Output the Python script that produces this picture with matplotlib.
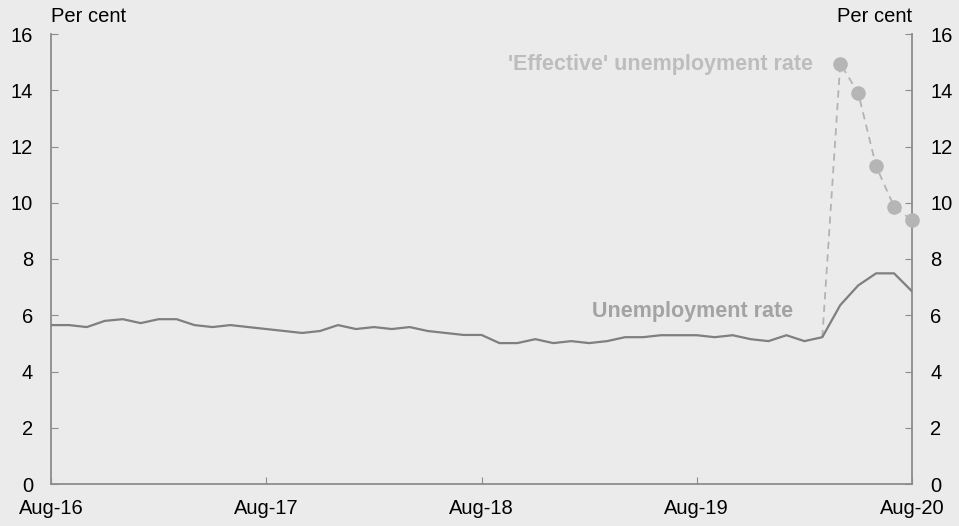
import matplotlib
matplotlib.use("Agg")
import matplotlib.pyplot as plt
import numpy as np

plt.rcParams["font.family"] = ["Liberation Sans", "DejaVu Sans"]

# monthly, Aug-16 .. Aug-20
unemployment = [5.65, 5.65, 5.58, 5.80, 5.86, 5.72, 5.86, 5.86, 5.65, 5.58,
                5.65, 5.58, 5.51, 5.44, 5.37, 5.44, 5.65, 5.51, 5.58, 5.51,
                5.58, 5.44, 5.37, 5.30, 5.30, 5.01, 5.01, 5.15, 5.01, 5.08,
                5.01, 5.08, 5.22, 5.22, 5.29, 5.29, 5.29, 5.22, 5.29, 5.15,
                5.08, 5.29, 5.08, 5.22, 6.36, 7.06, 7.49, 7.49, 6.85]
# Mar-20 .. Aug-20
effective_months = [43, 44, 45, 46, 47, 48]
effective = [5.22, 14.95, 13.9, 11.3, 9.86, 9.37]
tick_pos = [0, 12, 24, 36, 48]
tick_labels = ["Aug-16", "Aug-17", "Aug-18", "Aug-19", "Aug-20"]

bg = "#ebebeb"
axis_col = "#8c8c8c"

fig = plt.figure(figsize=(9.59, 5.26), dpi=100, facecolor=bg)
ax = fig.add_axes([51 / 959, 42 / 526, 861 / 959, 450 / 526], facecolor=bg)

x = np.arange(len(unemployment))
ax.plot(x, unemployment, color="#7f7f7f", lw=1.6, zorder=3)
ax.plot(effective_months, effective, color="#b3b3b3", lw=1.3,
        ls=(0, (4, 3)), zorder=2)
ax.plot(effective_months[1:], effective[1:], "o", color="#b5b5b5",
        ms=10.5, mec="none", zorder=4, clip_on=False)

ax.text(42.5, 14.9, "'Effective' unemployment rate", ha="right",
        va="center", fontsize=15.5, fontweight="bold", color="#bdbdbd")
ax.text(41.4, 6.15, "Unemployment rate", ha="right", va="center",
        fontsize=15.5, fontweight="bold", color="#a3a3a3")

ax.set_xlim(0, 48)
ax.set_ylim(0, 16)
ax.set_xticks(tick_pos)
ax.set_xticklabels(tick_labels)
ax.set_yticks(range(0, 17, 2))
ax.tick_params(axis="x", direction="in", length=5, color=axis_col,
               labelsize=14.5, pad=11)
ax.tick_params(axis="y", direction="in", length=5, color=axis_col,
               labelsize=14.5, left=True, right=True,
               labelleft=True, labelright=True, pad=13)

for s in ["left", "right", "bottom"]:
    ax.spines[s].set_color(axis_col)
    ax.spines[s].set_linewidth(1.3)
ax.spines["top"].set_visible(False)

fig.text(51 / 959, 1 - 17 / 526, "Per cent", ha="left", va="center",
         fontsize=14.5)
fig.text(912 / 959, 1 - 17 / 526, "Per cent", ha="right", va="center",
         fontsize=14.5)

fig.savefig("out.png", dpi=100, facecolor=bg)
